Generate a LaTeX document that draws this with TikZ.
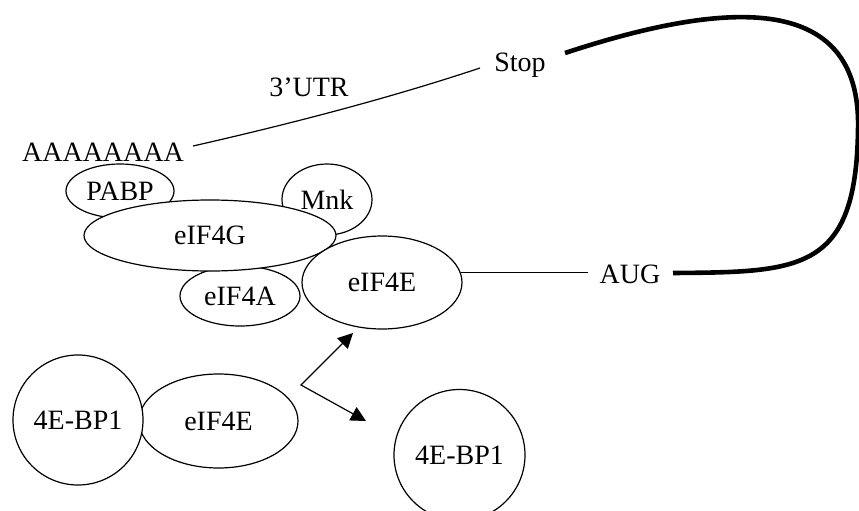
\documentclass[tikz,border=0pt]{standalone}
\usepackage{fontspec}
\setmainfont{Liberation Serif}
\usetikzlibrary{shapes.geometric,arrows.meta}
\begin{document}
\begin{tikzpicture}[x=1pt,y=-1pt,
  txt/.style={inner sep=0pt,font=\fontsize{28}{33}\selectfont},
  blob/.style={draw,ellipse,fill=white,line width=1.2pt,inner sep=0pt,font=\fontsize{28}{33}\selectfont},
  ball/.style={draw,circle,fill=white,line width=1.2pt,inner sep=0pt,font=\fontsize{28}{33}\selectfont},
  thin/.style={line width=1.2pt},
  thickline/.style={line width=4.6pt},
  arr/.style={line width=1.2pt,{Triangle[length=15pt,width=15pt]}-{Triangle[length=15pt,width=15pt]}}]
\useasboundingbox (0,0) rectangle (859,511);
% text labels
\node[txt,anchor=base] (aaa) at (103,161) {AAAAAAAA};
\node[txt,anchor=base] (utr) at (309,96.7) {3’UTR};
\node[txt,anchor=base] (stop) at (520,71.7) {Stop};
\node[txt,anchor=base] (aug) at (630,283) {AUG};
% complex
\node[blob,minimum width=108pt,minimum height=54pt] (pabp) at (120,191) {PABP};
\node[blob,minimum width=90pt,minimum height=71pt] (mnk) at (327,199.5) {Mnk};
\node[blob,minimum width=120pt,minimum height=60pt] (a4) at (240,296) {eIF4A};
\node[blob,minimum width=252pt,minimum height=71pt] (g4) at (210,235.5) {eIF4G};
\node[blob,minimum width=160pt,minimum height=93pt] (e4) at (382,282.5) {eIF4E};
% lower group
\node[blob,minimum width=159pt,minimum height=94pt] (e4b) at (218.5,421) {eIF4E};
\node[ball,minimum size=130pt] (bp1) at (78,420) {4E-BP1};
\node[ball,minimum size=131pt] (bp2) at (459.5,455) {4E-BP1};
% mRNA
\coordinate (aaae) at (193,146);
\coordinate (stopw) at (480,68);
\coordinate (stope) at (565,53);
\coordinate (auge) at (673,273);
\coordinate (augw) at (588,273);
\draw[thin] (aaae) .. controls (290,124) and (390,98) .. (stopw);
\draw[thickline] (stope) .. controls (720,2) and (862,-12) .. (858,130)
   .. controls (856,272) and (800,272) .. (auge);
\draw[thin] (e4.7) -- (e4.7 -| augw);
% arrows
\coordinate (fork) at (301,385);
\coordinate (tipup) at (353,333);
\coordinate (tipdn) at (366,421);
\draw[arr] (tipup) -- (fork) -- (tipdn);
\end{tikzpicture}
\end{document}
